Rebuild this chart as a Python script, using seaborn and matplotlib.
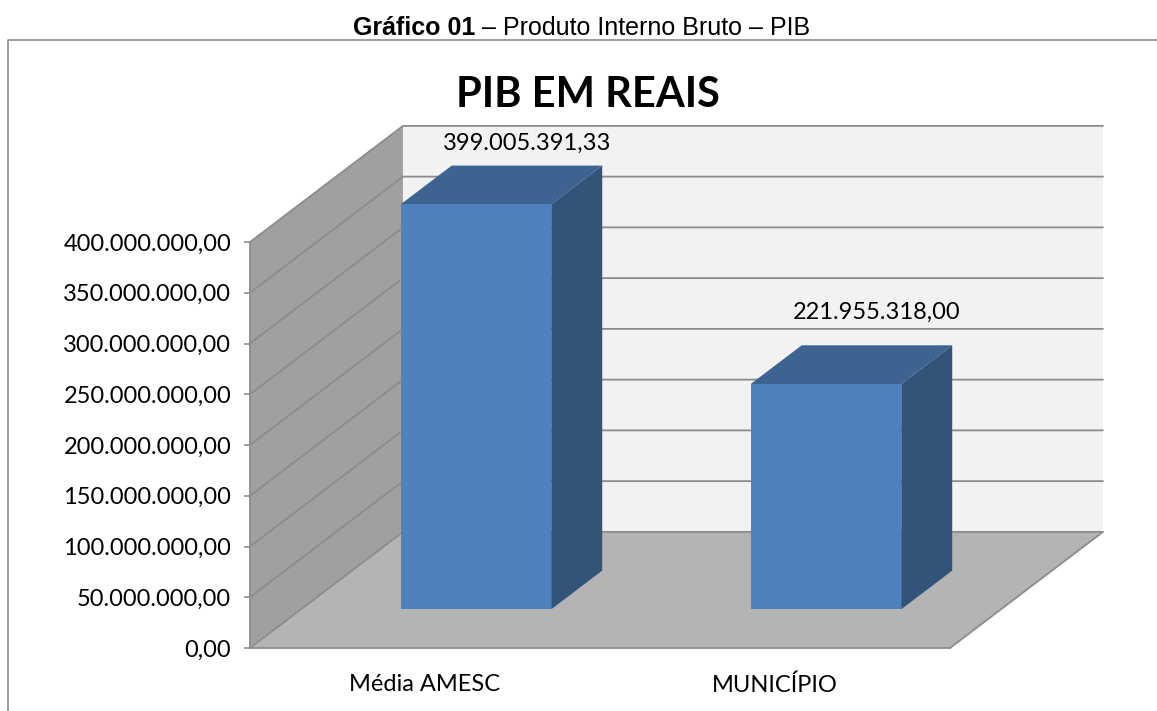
import matplotlib
matplotlib.use("Agg")
import matplotlib.pyplot as plt
from matplotlib.patches import Polygon
from matplotlib.lines import Line2D
import pandas as pd
import seaborn as sns

# dados
categorias = ["Média AMESC", "MUNICÍPIO"]
pib = [399005391.33, 221955318.00]
y_ticks = [0, 50e6, 100e6, 150e6, 200e6, 250e6, 300e6, 350e6, 400e6]
titulo = "PIB EM REAIS"
legenda_num = "Gráfico 01"
legenda_txt = " – Produto Interno Bruto – PIB"


def fmt_br(v):
    s = f"{v:,.2f}"
    return s.replace(",", "#").replace(".", ",").replace("#", ".")


W, H = 1157, 711
sns.set_style("white")
plt.rcParams["font.family"] = ["Lato", "DejaVu Sans"]
plt.rcParams["text.color"] = "black"
plt.rcParams["xtick.labelcolor"] = "black"
plt.rcParams["ytick.labelcolor"] = "black"

fig = plt.figure(figsize=(W / 100, H / 100), dpi=100)
ax = fig.add_axes([250 / W, 63 / H, 700 / W, 406 / H])
ax.patch.set_alpha(0)

df = pd.DataFrame({"cat": categorias, "pib": pib})
sns.barplot(data=df, x="cat", y="pib", color="#4F81BD", saturation=1,
            width=0.43, linewidth=0, ax=ax, zorder=4)
bars = list(ax.patches)

ymax = y_ticks[-1]
x0, x1 = -0.5, len(categorias) - 0.5
ax.set_xlim(x0, x1)
ax.set_ylim(0, ymax)

# profundidade do "3D"
DX, DY = 0.437, 0.286 * ymax
grid_c = "#8C8C8C"

# paredes e piso
ax.add_patch(Polygon([(x0 + DX, DY), (x1 + DX, DY), (x1 + DX, ymax + DY), (x0 + DX, ymax + DY)],
                     fc="#F2F2F2", ec="none", zorder=0, clip_on=False))
ax.add_patch(Polygon([(x0, 0), (x0 + DX, DY), (x0 + DX, ymax + DY), (x0, ymax)],
                     fc="#A0A0A0", ec="none", zorder=0, clip_on=False))
ax.add_patch(Polygon([(x0, 0), (x1, 0), (x1 + DX, DY), (x0 + DX, DY)],
                     fc="#B4B4B4", ec="none", zorder=0.5, clip_on=False))
for t in y_ticks:
    ax.plot([x0, x0 + DX, x1 + DX], [t + 0, t + DY, t + DY], color=grid_c, lw=1.3,
            clip_on=False, zorder=1)
ax.plot([x1, x1 + DX], [0, DY], color=grid_c, lw=1.3, clip_on=False, zorder=1)

# barras deslocadas para o meio da profundidade
bdx, bdy = DX / 3, DY / 3
for p, v in zip(bars, pib):
    p.set_x(p.get_x() + bdx)
    p.set_y(bdy)
    p.set_clip_on(False)
    xl, xr = p.get_x(), p.get_x() + p.get_width()
    yb, yt = bdy, bdy + p.get_height()
    ax.add_patch(Polygon([(xr, yb), (xr + bdx, yb + bdy), (xr + bdx, yt + bdy), (xr, yt)],
                         fc="#325479", ec="none", zorder=3, clip_on=False))
    ax.add_patch(Polygon([(xl, yt), (xl + bdx, yt + bdy), (xr + bdx, yt + bdy), (xr, yt)],
                         fc="#3D6390", ec="none", zorder=3, clip_on=False))
    ly = min(yt + bdy + 0.081 * ymax, ymax + DY - 0.044 * ymax)
    ax.text((xl + xr) / 2 + bdx, ly, fmt_br(v), ha="center", va="center",
            fontsize=17, clip_on=False, zorder=6)

# eixos
ax.set_xlabel("")
ax.set_ylabel("")
ax.set_yticks(y_ticks, [fmt_br(t) for t in y_ticks])
ax.set_xticks(range(len(categorias)), categorias)
ax.set_xticks([x0 + i for i in range(len(categorias) + 1)], minor=True)
ax.tick_params(axis="y", length=4.5, width=1.2, color=grid_c, pad=9, labelsize=17)
ax.tick_params(axis="x", which="major", length=0, pad=19, labelsize=17)
ax.tick_params(axis="x", which="minor", length=5, width=1.2, color=grid_c, direction="out")
ax.tick_params(left=True, bottom=True)
for s in ["top", "right"]:
    ax.spines[s].set_visible(False)
for s in ["left", "bottom"]:
    ax.spines[s].set_color(grid_c)
    ax.spines[s].set_linewidth(1.3)
    ax.spines[s].set_zorder(2)

# títulos
fig.text(588 / W, 1 - 95 / H, titulo, ha="center", va="center",
         fontsize=30, fontweight="bold")
fig.text(475 / W, 1 - 28 / H, legenda_num, ha="right", va="center",
         fontsize=18, fontweight="bold", family=["Liberation Sans"])
fig.text(475 / W, 1 - 28 / H, legenda_txt, ha="left", va="center",
         fontsize=18, family=["Liberation Sans"])

# moldura
fig.add_artist(Line2D([8 / W, 8 / W, 1], [0, 1 - 40 / H, 1 - 40 / H],
                      color="#8C8C8C", lw=1.2, transform=fig.transFigure))

fig.savefig("out.png", dpi=100)
